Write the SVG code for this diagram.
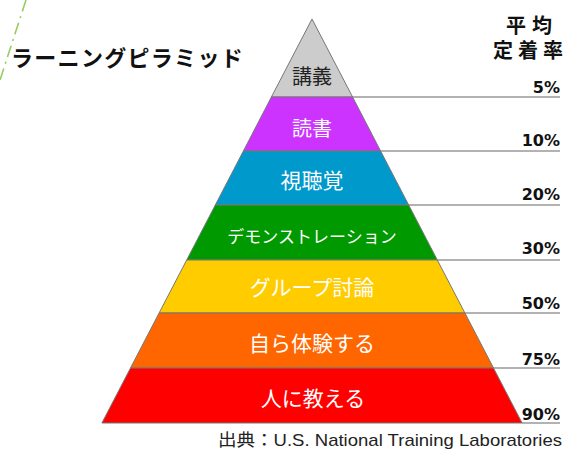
<svg xmlns="http://www.w3.org/2000/svg" width="568" height="449" viewBox="0 0 568 449">
<style>
.band{stroke:#777;stroke-width:1;stroke-linejoin:round}
.lbl{font-family:"Noto Sans CJK JP","Noto Sans",sans-serif;font-size:20px;text-anchor:middle;fill:#fff}
.pct{font-family:"DejaVu Sans",sans-serif;font-weight:bold;font-size:16px;text-anchor:end;fill:#111}
.lead{stroke:#999;stroke-width:1.5;fill:none}
.hdr{font-family:"Noto Sans CJK JP",sans-serif;font-weight:bold;font-size:20px;fill:#111}
</style>
<rect width="568" height="449" fill="#fff"/>
<line x1="26" y1="0" x2="0" y2="80" stroke="#99cc66" stroke-width="1.6" stroke-dasharray="12 5 2 5"/>
<text x="11" y="66" font-family="'Noto Sans CJK JP',sans-serif" font-weight="bold" font-size="22" letter-spacing="1.3" fill="#111">ラーニングピラミッド</text>
<text class="hdr" x="506 532" y="33">平均</text>
<text class="hdr" x="493 518 543" y="58">定着率</text>
<g id="connectors">
<line class="lead" x1="352.6" y1="97" x2="560" y2="97"/>
<line class="lead" x1="380.6" y1="151" x2="560" y2="151"/>
<line class="lead" x1="408.7" y1="205" x2="560" y2="205"/>
<line class="lead" x1="437.3" y1="260" x2="560" y2="260"/>
<line class="lead" x1="464.9" y1="313" x2="560" y2="313"/>
<line class="lead" x1="493.5" y1="368" x2="560" y2="368"/>
<line class="lead" x1="522.1" y1="423" x2="560" y2="423"/>
</g>
<g id="lecture">
<polygon class="band" points="312,19 352.6,97 271.4,97" fill="#cccccc"/>
<text class="lbl" x="312" y="84" style="fill:#222">講義</text>
</g>
<g id="reading">
<polygon class="band" points="271.4,97 352.6,97 380.6,151 243.4,151" fill="#cc33ff"/>
<text class="lbl" x="312" y="136">読書</text>
</g>
<g id="av">
<polygon class="band" points="243.4,151 380.6,151 408.7,205 215.3,205" fill="#0099cc"/>
<text class="lbl" x="312" y="188" style="font-size:21px">視聴覚</text>
</g>
<g id="demo">
<polygon class="band" points="215.3,205 408.7,205 437.3,260 186.7,260" fill="#009900"/>
<text class="lbl" x="312" y="243" style="font-size:17px">デモンストレーション</text>
</g>
<g id="discussion">
<polygon class="band" points="186.7,260 437.3,260 464.9,313 159.1,313" fill="#ffcc00"/>
<text class="lbl" x="312" y="295" style="font-size:21px">グループ討論</text>
</g>
<g id="practice">
<polygon class="band" points="159.1,313 464.9,313 493.5,368 130.5,368" fill="#ff6600"/>
<text class="lbl" x="312" y="351" style="font-size:21px">自ら体験する</text>
</g>
<g id="teach">
<polygon class="band" points="130.5,368 493.5,368 522.1,423 101.9,423" fill="#ff0000"/>
<text class="lbl" x="313" y="406" style="font-size:21px">人に教える</text>
</g>
<g id="percents">
<text class="pct" x="560" y="93">5%</text>
<text class="pct" x="560" y="146">10%</text>
<text class="pct" x="560" y="200">20%</text>
<text class="pct" x="560" y="254">30%</text>
<text class="pct" x="560" y="309">50%</text>
<text class="pct" x="560" y="365">75%</text>
<text class="pct" x="560" y="420">90%</text>
</g>
<text x="218" y="446" textLength="344" lengthAdjust="spacingAndGlyphs" font-family="'Liberation Sans','Noto Sans CJK JP',sans-serif" font-size="17" fill="#222">出典：U.S. National Training Laboratories</text>
</svg>
